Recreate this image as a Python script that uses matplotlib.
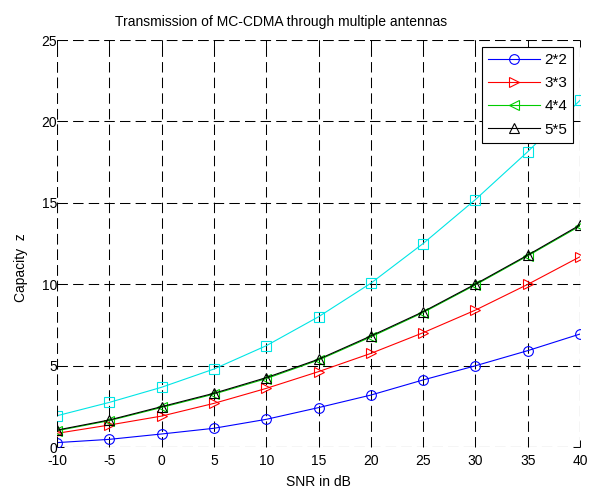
"""
Capacity vs SNR for MC-CDMA with multiple antennas (MATLAB-style figure).
"""

import matplotlib
matplotlib.use('Agg')
import matplotlib.pyplot as plt

snr_db = [-10, -5, 0, 5, 10, 15, 20, 25, 30, 35, 40]

cap_2x2 = [0.27, 0.47, 0.80, 1.15, 1.70, 2.42, 3.19, 4.12, 4.99, 5.92, 6.94]
cap_3x3 = [0.84, 1.35, 1.90, 2.68, 3.60, 4.63, 5.75, 7.02, 8.41, 9.99, 11.69]
cap_4x4 = [1.00, 1.62, 2.43, 3.25, 4.20, 5.34, 6.76, 8.26, 9.96, 11.74, 13.58]
cap_5x5 = [1.04, 1.66, 2.48, 3.30, 4.26, 5.39, 6.82, 8.31, 10.01, 11.79, 13.64]
cap_extra = [1.92, 2.74, 3.67, 4.79, 6.22, 8.00, 10.06, 12.50, 15.20, 18.14, 21.30]

x_ticks = [-10, -5, 0, 5, 10, 15, 20, 25, 30, 35, 40]
y_ticks = [0, 5, 10, 15, 20, 25]

plt.rcParams['font.family'] = ['Liberation Sans', 'DejaVu Sans']
plt.rcParams['font.size'] = 10
plt.rcParams['axes.unicode_minus'] = False

fig = plt.figure(figsize=(5.98, 4.88), dpi=100)
ax = fig.add_axes([0.0953, 0.084, 0.8747, 0.834])

style = dict(lw=0.8, ms=7, mfc='none', mew=0.8)
ax.plot(snr_db, cap_2x2, color='#0000ff', marker='o', label='2*2', **style)
ax.plot(snr_db, cap_3x3, color='#ff0000', marker='>', label='3*3', **style)
ax.plot(snr_db, cap_4x4, color='#00cc00', marker='<', label='4*4', **style)
ax.plot(snr_db, cap_5x5, color='black', marker='^', label='5*5', **style)
ax.plot(snr_db, cap_extra, color='#00e5e5', marker='s', **style)

ax.set_xlim(-10, 40)
ax.set_ylim(0, 25)
ax.set_xticks(x_ticks)
ax.set_yticks(y_ticks)

# no solid box: the dashed grid also draws the frame
dash = (0, (10, 5))
for s in ax.spines.values():
    s.set_visible(False)
ax.grid(True, color='black', linestyle=dash, linewidth=0.75)
for x in (-10, 40):
    ax.axvline(x, color='black', linestyle=dash, linewidth=0.75)
for y in (0, 25):
    ax.axhline(y, color='black', linestyle=dash, linewidth=0.75)
ax.tick_params(direction='in', length=5, width=0.7, top=True, right=True,
               labelsize=10)
ax.tick_params(axis='x', pad=5)
ax.tick_params(axis='y', pad=0)

ax.set_title('Transmission of MC-CDMA through multiple antennas', fontsize=10,
             x=0.428, pad=10)
ax.set_xlabel('SNR in dB', fontsize=10, labelpad=5)
ax.set_ylabel('Capacity  z', fontsize=10)
ax.yaxis.set_label_coords(-0.055, 0.44)

leg = ax.legend(loc='upper right', fancybox=False, framealpha=1, edgecolor='black',
                handlelength=3.4, labelspacing=0.6, borderaxespad=0.45,
                fontsize=11, handletextpad=0.3)
leg.get_frame().set_linewidth(0.8)

fig.savefig('out.png', dpi=100)
